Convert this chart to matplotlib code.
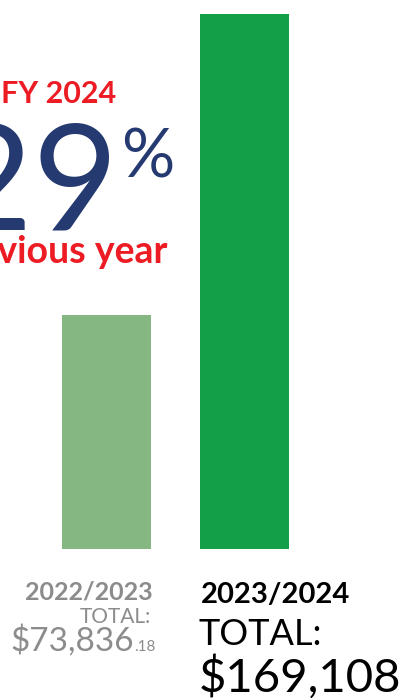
import matplotlib.pyplot as plt

plt.rcParams['font.family'] = ['Lato', 'DejaVu Sans']

# données
years = ["2022/2023", "2023/2024"]
totals = [73836.18, 169108.00]
bar_colors = ["#84b782", "#139e48"]
growth = round((totals[1] / totals[0] - 1) * 100)  # 129 %

W, H = 402, 698
fig = plt.figure(figsize=(W / 100, H / 100), dpi=100)

# les barres
ax = fig.add_axes([0, 149 / H, 1, 549 / H])
ax.bar(range(len(totals)), totals, width=0.645, color=bar_colors)
ax.set_xlim(-0.772, 2.141)
ax.set_ylim(0, totals[1] * 549 / 535)
ax.axis("off")


def px(x, y):
    # pixels (origine en haut à gauche) -> coordonnées figure
    return x / W, 1 - y / H


red = "#ed1c24"
navy = "#263a72"

# titre
fig.text(*px(116, 103), "FY 2024", color=red, fontsize=22, fontweight="bold",
         ha="right", va="baseline")
fig.text(*px(119, 230), str(growth), color=navy, fontsize=106,
         ha="right", va="baseline")
fig.text(*px(121, 177), "%", color=navy, fontsize=48,
         ha="left", va="baseline")
fig.text(*px(168, 263), "over previous year", color=red, fontsize=27,
         fontweight="bold", ha="right", va="baseline")

# année 1
gray = "#8c8c8c"
fig.text(*px(153, 599), years[0], color=gray, fontsize=18, fontweight="bold",
         ha="right", va="baseline")
fig.text(*px(151, 623), "TOTAL:", color=gray, fontsize=15,
         ha="right", va="baseline")
dollars, cents = f"{totals[0]:,.2f}".split(".")
fig.text(*px(134, 651), "$" + dollars, color=gray, fontsize=24,
         ha="right", va="baseline")
fig.text(*px(134, 651), "." + cents, color=gray, fontsize=11,
         ha="left", va="baseline")

# année 2
fig.text(*px(201, 603), years[1], color="black", fontsize=21, fontweight="bold",
         ha="left", va="baseline")
fig.text(*px(199, 645), "TOTAL:", color="black", fontsize=26,
         ha="left", va="baseline")
fig.text(*px(199, 692), f"${totals[1]:,.0f}", color="black", fontsize=34,
         ha="left", va="baseline")

fig.savefig("out.png", dpi=100)
